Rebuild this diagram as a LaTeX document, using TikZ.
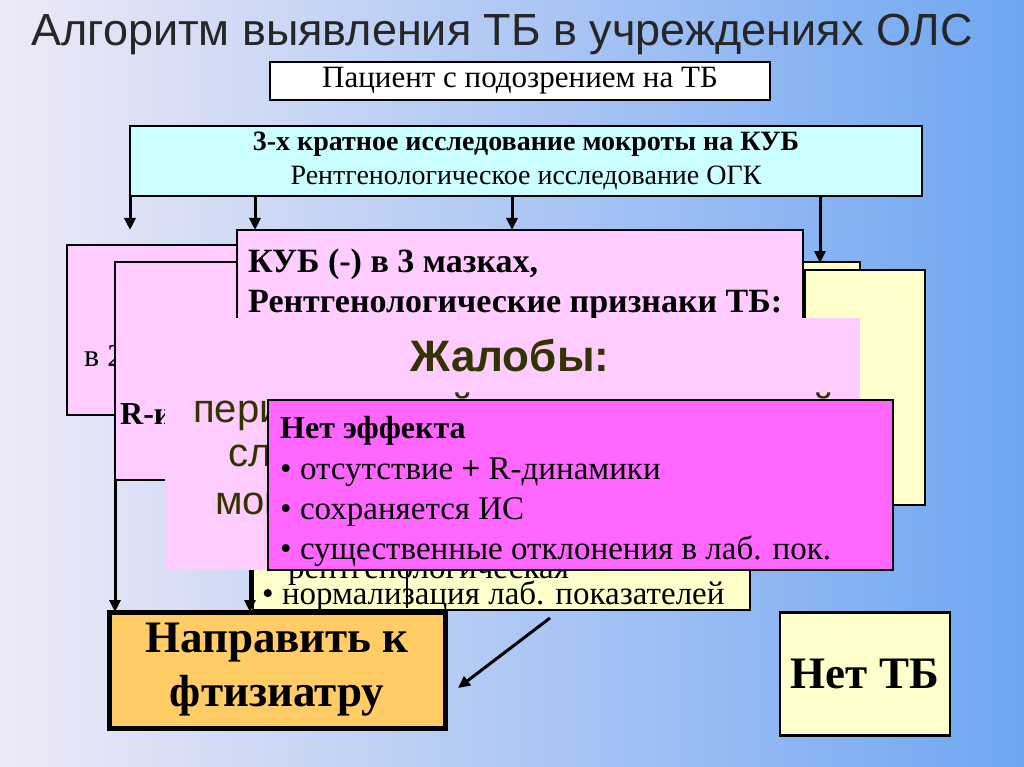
\documentclass[tikz,border=0pt]{standalone}
\usepackage{fontspec}
\setmainfont{Liberation Serif}
\newfontfamily\ttl{Liberation Sans}
\usetikzlibrary{arrows.meta}
\definecolor{pinkb}{HTML}{FFCCFF}
\definecolor{yel}{HTML}{FFFFCC}
\definecolor{cyb}{HTML}{CCFFFF}
\definecolor{mag}{HTML}{FF66FF}
\definecolor{ora}{HTML}{FFCC66}
\definecolor{olive}{HTML}{333300}
\definecolor{bgl}{HTML}{EEEAF6}
\definecolor{bgr}{HTML}{6FA6F2}
\tikzset{bx/.style={draw=black,line width=2.4pt},
 arr/.style={line width=3pt,-{Triangle[length=12pt,width=11pt]}},
 tx/.style={inner sep=0pt,anchor=base west}}
\begin{document}
\begin{tikzpicture}[x=1pt,y=-1pt]
\useasboundingbox (0,0) rectangle (1024,767);
\shade[left color=bgl,right color=bgr] (0,0) rectangle (1024,767);
\node[font=\ttl\fontsize{45}{48}\selectfont,text=black!85] (title) at (502,34) {Алгоритм выявления ТБ в учреждениях ОЛС};
% top boxes
\node[bx,fill=white,minimum width=500pt,minimum height=38pt,inner sep=0pt,font=\fontsize{31}{33}\selectfont] (pat) at (520,81) {Пациент с подозрением на ТБ};
\node[bx,fill=cyb,minimum width=792pt,minimum height=70pt,inner sep=0pt,align=center,font=\fontsize{28}{34}\selectfont] (kr) at (526,161) {\textbf{3-х кратное исследование мокроты на КУБ}\\Рентгенологическое исследование ОГК};
\coordinate (a1) at (130,196); \coordinate (b1) at (130,230);
\coordinate (a2) at (255,196); \coordinate (b2) at (255,230);
\coordinate (a3) at (512,196); \coordinate (b3) at (512,230);
\coordinate (a4) at (820,196); \coordinate (b4) at (820,263);
\draw[arr] (a1)--(b1); \draw[arr] (a2)--(b2); \draw[arr] (a3)--(b3); \draw[arr] (a4)--(b4);
% back boxes
\draw[bx,fill=pinkb] (67,245) rectangle (240,415);
\node[tx,font=\fontsize{32}{34}\selectfont] (bv) at (84,366) {в 2};
\draw[bx,fill=yel] (800,262) rectangle (860,300);
\draw[bx,fill=yel] (805,270) rectangle (925,505);
\draw[bx,fill=pinkb] (115,262) rectangle (300,480);
\node[tx,font=\bfseries\fontsize{32}{34}\selectfont] (ri) at (120,424) {R-и};
\draw[bx,fill=yel] (253,520) rectangle (750,610);
\node[tx,font=\fontsize{33}{35}\selectfont] (rr) at (268,578) {• рентгенологическая};
\node[tx,font=\fontsize{33}{35}\selectfont] (norm) at (262,604) {• нормализация лаб. показателей};
% arrows to napr
\coordinate (c1) at (115,480); \coordinate (d1) at (115,612);
\coordinate (c2) at (250,560); \coordinate (d2) at (250,612);
\coordinate (c3) at (407,560); \coordinate (d3) at (407,608);
\draw[arr] (c1)--(d1); \draw[arr] (c2)--(d2); \draw[line width=2.5pt] (c3)--(d3);
% KUB box
\draw[bx,fill=pinkb] (237,230) rectangle (803,330);
\node[tx,font=\bfseries\fontsize{34}{36}\selectfont] (kub1) at (248,272) {КУБ (-) в 3 мазках,};
\node[tx,font=\bfseries\fontsize{34}{36}\selectfont] (kub2) at (248,312) {Рентгенологические признаки ТБ:};
% complaints
\fill[pinkb] (165,318) rectangle (860,570);
\node[font=\ttl\bfseries\fontsize{44}{46}\selectfont,text=olive] (zh) at (510,356) {Жалобы:};
\node[tx,font=\ttl\fontsize{40}{42}\selectfont,text=olive] (z1) at (193,422) {периодический кашель со скудной};
\node[tx,font=\ttl\fontsize{40}{42}\selectfont,text=olive] (z2) at (228,466) {слизистой};
\node[tx,font=\ttl\fontsize{40}{42}\selectfont,text=olive] (z3) at (215,514) {мокротой};
% no effect
\draw[bx,fill=mag] (268,400) rectangle (893,570);
\node[tx,font=\bfseries\fontsize{32}{34}\selectfont] (ne) at (280,438) {Нет эффекта};
\node[tx,font=\fontsize{33}{35}\selectfont] (ne1) at (280,479) {• отсутствие \textbf{+} R-динамики};
\node[tx,font=\fontsize{33}{35}\selectfont] (ne2) at (280,519) {• сохраняется ИС};
\node[tx,font=\fontsize{33}{35}\selectfont] (ne3) at (280,559) {• существенные отклонения в лаб. пок.};
% bottom
\node[draw=black,line width=5pt,fill=ora,minimum width=336pt,minimum height=116pt,inner sep=0pt,align=center,font=\bfseries\fontsize{45}{54}\selectfont] (napr) at (277,670) {Направить к\\фтизиатру};
\node[bx,fill=yel,minimum width=170pt,minimum height=123pt,inner sep=0pt,font=\bfseries\fontsize{45}{47}\selectfont] (nettb) at (865,674) {Нет ТБ};
\coordinate (e1) at (550,618); \coordinate (e2) at (458,688);
\draw[arr] (e1)--(e2);
\end{tikzpicture}
\end{document}
